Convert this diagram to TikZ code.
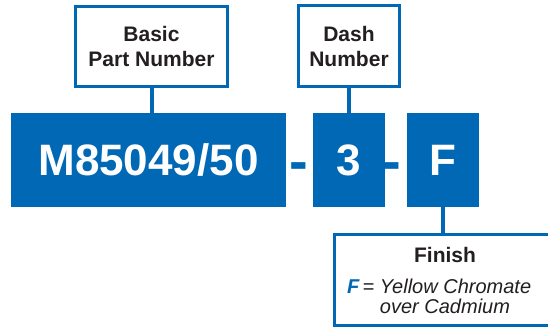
\documentclass[tikz,border=0pt]{standalone}
\usepackage{fontspec}
\setmainfont{Liberation Sans}
\definecolor{partblue}{HTML}{0068B4}
\definecolor{inkgray}{HTML}{231F20}

\begin{document}
\begin{tikzpicture}[x=1pt, y=-1pt,
		labelbox/.style={draw=partblue, line width=3pt, fill=white, text=inkgray, inner sep=0pt},
		partbox/.style={fill=partblue, text=white, inner sep=0pt, minimum height=94pt, font=\bfseries\fontsize{44}{44}\selectfont},
		hyph/.style={text=partblue, inner sep=0pt, anchor=base, font=\bfseries\fontsize{56}{56}\selectfont},
		conn/.style={draw=partblue, line width=4pt}]
		\useasboundingbox (0,0) rectangle (548,328);
		\node[labelbox, minimum width=152pt, minimum height=80pt, align=center, font=\bfseries\fontsize{21}{25}\selectfont] (basic) at (151.5,46.5) {Basic\\Part Number};
		\node[labelbox, minimum width=101pt, minimum height=81pt, align=center, font=\bfseries\fontsize{21}{25}\selectfont] (dashlbl) at (349,46) {Dash\\Number};
		\node[partbox, minimum width=275pt] (part) at (148.5,160) {M85049/50};
		\node[hyph] (dash1) at (299,181) {-};
		\node[partbox, minimum width=72pt] (three) at (349,160) {3};
		\node[hyph] (dash2) at (392,181) {-};
		\node[partbox, minimum width=72pt] (fin) at (443,160) {F};
		\node[labelbox, minimum width=221pt, minimum height=91pt] (finish) at (445,280) {};
		\node[text=inkgray, anchor=base, inner sep=0pt, font=\bfseries\fontsize{21}{25}\selectfont] (fintitle) at (445,263) {Finish};
		\node[text=inkgray, anchor=base west, inner sep=0pt, align=left, font=\itshape\fontsize{20}{20}\selectfont] (findef) at (347,313) {\textcolor{partblue}{\bfseries F}\,{\upshape=} Yellow Chromate\\\hphantom{\bfseries F}\,\hphantom{=} over Cadmium};
		\draw[conn] (basic.south) -- (basic.south |- part.north);
		\draw[conn] (dashlbl.south) -- (dashlbl.south |- three.north);
		\draw[conn] (fin.south) -- (fin.south |- finish.north);
	\end{tikzpicture}
\end{document}
